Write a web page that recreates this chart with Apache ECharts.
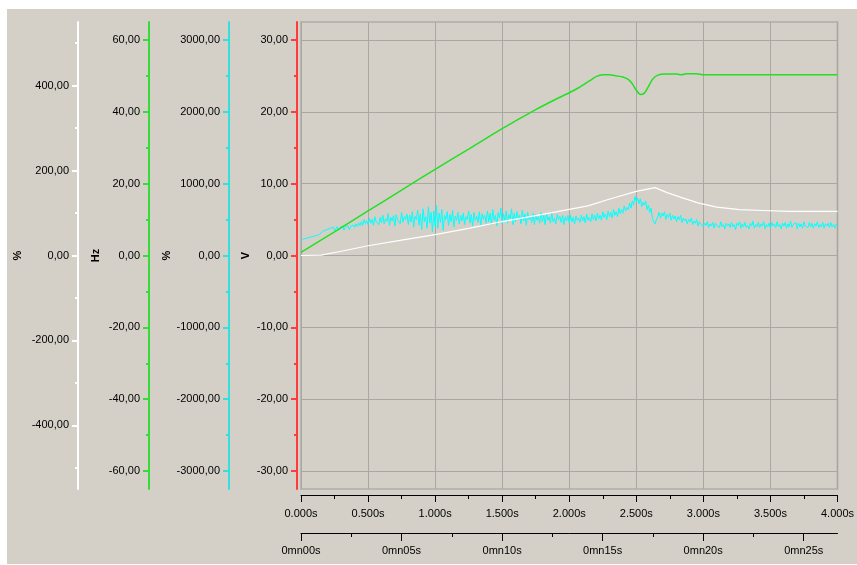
<!DOCTYPE html>
<html>
<head>
<meta charset="utf-8">
<script src="https://cdn.jsdelivr.net/npm/echarts@6.0.0/dist/echarts.min.js"></script>
<style>
  html, body { margin: 0; padding: 0; background: #ffffff; }
  #panel { position: absolute; left: 7px; top: 9px; width: 850px; height: 555px; background: #d4d0c8; }
  #chart { position: absolute; left: 0; top: 0; width: 857px; height: 565px; }
</style>
</head>
<body>
<div id="panel"></div>
<div id="chart"></div>
<script>
// ---------------- data ----------------
// second time axis (s) labels
const clockTicks = [0, 5, 10, 15, 20, 25];
const clockMinor = [2.5, 7.5, 12.5, 17.5, 22.5];

// axis tick values
const vTicks = [-30, -20, -10, 0, 10, 20, 30];
const vMinor = [-25, -15, -5, 5, 15, 25];
const cyanTicks = [-3000, -2000, -1000, 0, 1000, 2000, 3000];
const cyanMinor = [-2500, -1500, -500, 500, 1500, 2500];
const hzTicks = [-60, -40, -20, 0, 20, 40, 60];
const hzMinor = [-50, -30, -10, 10, 30, 50];
const pctTicks = [-400, -200, 0, 200, 400];
const pctMinor = [-500, -300, -100, 100, 300, 500];

// green series: frequency (Hz) vs time (s)
const freqTime = [0, 0.25, 0.5, 0.75, 1.0, 1.25, 1.5, 1.75, 1.9, 2.0, 2.07, 2.15, 2.2, 2.25, 2.3, 2.35, 2.4, 2.44, 2.47, 2.5, 2.53, 2.56, 2.59, 2.62, 2.66, 2.72, 2.8, 2.84, 2.87, 2.95, 3.0, 4.0];
const freqHz   = [0.9, 6.6, 12.4, 18.2, 24.0, 29.6, 35.3, 40.6, 43.5, 45.3, 46.7, 48.6, 49.8, 50.3, 50.3, 50.0, 49.7, 49.0, 47.8, 46.0, 44.8, 45.2, 47.0, 49.0, 50.2, 50.5, 50.5, 50.3, 50.6, 50.6, 50.3, 50.3];

// white series: % vs time (s)
const whiteTime = [0, 0.15, 0.3, 0.5, 0.75, 1.0, 1.25, 1.5, 1.75, 1.92, 2.14, 2.29, 2.5, 2.64, 2.73, 2.85, 2.96, 3.1, 3.27, 3.45, 3.64, 4.0];
const whitePct  = [0, 1, 10, 23, 36, 49, 64, 80, 94, 104, 117, 132, 151, 160, 148, 135, 124, 114, 108, 106, 104, 104];

// cyan series: % sampled every CYAN_DT seconds starting at 0 (one row = 0.2 s)
const CYAN_DT = 0.01;
const cyanPct = [
  200, 215, 230, 222, 240, 235, 252, 246, 262, 255, 270, 290, 280, 305, 295, 320, 335, 325, 350, 340,
  365, 345, 380, 355, 395, 340, 372, 402, 350, 388, 365, 410, 352, 395, 372, 418, 360, 405, 380, 425,
  392, 440, 405, 455, 415, 470, 420, 500, 445, 485, 430, 520, 450, 505, 420, 540, 470, 495, 430, 530,
  455, 560, 440, 510, 475, 585, 420, 530, 480, 555, 410, 570, 495, 520, 440, 600, 465, 540, 500, 575,
  430, 560, 470, 610, 395, 545, 500, 630, 420, 580, 360, 650, 470, 540, 380, 680, 450, 600, 330, 620,
  410, 700, 380, 590, 460, 640, 350, 560, 500, 610, 420, 570, 470, 630, 400, 550, 490, 600, 440, 560,
  480, 590, 430, 540, 500, 620, 450, 570, 410, 600, 490, 545, 460, 610, 420, 580, 505, 560, 450, 620,
  470, 590, 430, 640, 490, 560, 410, 600, 520, 660, 440, 580, 480, 620, 450, 570, 510, 650, 430, 590,
  470, 610, 500, 560, 440, 630, 480, 580, 420, 600, 500, 550, 460, 590, 430, 570, 490, 540, 450, 600,
  470, 560, 430, 580, 490, 540, 450, 590, 470, 520, 440, 570, 500, 545, 460, 560, 430, 540, 480, 555,
  450, 560, 470, 530, 440, 550, 490, 520, 460, 560, 480, 540, 455, 575, 490, 530, 470, 580, 500, 560,
  480, 590, 510, 560, 490, 610, 530, 580, 500, 620, 540, 600, 520, 640, 560, 610, 540, 660, 580, 640,
  590, 690, 620, 670, 640, 730, 660, 760, 700, 820, 750, 800, 720, 790, 680, 740, 700, 760, 640, 700,
  600, 660, 520, 470, 440, 500, 540, 600, 520, 590, 550, 610, 500, 570, 530, 590, 490, 560, 510, 550,
  470, 540, 500, 560, 460, 520, 480, 510, 440, 500, 470, 520, 430, 480, 450, 500, 410, 470, 440, 460,
  400, 450, 420, 470, 390, 440, 410, 460, 380, 450, 420, 440, 390, 470, 400, 430, 370, 450, 410, 440,
  390, 460, 400, 430, 360, 450, 420, 470, 380, 440, 400, 460, 390, 420, 370, 450, 410, 480, 380, 430,
  400, 460, 390, 440, 410, 470, 370, 430, 400, 450, 380, 460, 410, 440, 390, 470, 400, 430, 370, 450,
  410, 460, 380, 440, 400, 480, 390, 430, 410, 460, 370, 450, 400, 440, 380, 470, 410, 430, 390, 460,
  400, 450, 380, 440, 410, 470, 390, 430, 400, 460, 380, 440, 410, 450, 390, 460, 400, 430, 380, 440,
  420
];

// ---------------- chart ----------------
const GRID = '#a9a7a2';
const labelFont = "'Liberation Sans', Arial, sans-serif";
const fmt2 = v => v.toFixed(2).replace('.', ',');

function yAxisPair(opts) {
  const major = {
    type: 'value', position: 'left', gridIndex: 0,
    min: opts.min, max: opts.max, offset: opts.offset,
    name: opts.name, nameLocation: 'middle', nameRotate: 90, nameGap: opts.nameGap, nameMoveOverlap: false,
    nameTextStyle: { fontFamily: labelFont, fontWeight: 'bold', fontSize: 11, color: '#000' },
    axisLine: { show: true, onZero: false, lineStyle: { color: opts.color, width: 2 } },
    axisTick: { show: true, inside: false, length: 6, interval: 0, customValues: opts.ticks, lineStyle: { color: opts.color, width: 2 } },
    axisLabel: { show: true, interval: 0, hideOverlap: false, customValues: opts.ticks, margin: 9, formatter: fmt2, fontFamily: labelFont, fontSize: 11, color: '#000' },
    splitLine: { show: !!opts.split, interval: 0, lineStyle: { color: GRID, width: 1 } },
    minorTick: { show: false }
  };
  const minor = {
    type: 'value', position: 'left', gridIndex: 0,
    min: opts.min, max: opts.max, offset: opts.offset,
    axisLine: { show: false, onZero: false, lineStyle: { color: opts.color } },
    axisTick: { show: true, inside: false, length: 3, interval: 0, customValues: opts.minor, lineStyle: { color: opts.color, width: 2 } },
    axisLabel: { show: false, customValues: opts.minor },
    splitLine: { show: false }
  };
  return [major, minor];
}

const yAxes = [].concat(
  yAxisPair({ min: -32.5, max: 32.5, offset: 4, color: '#ff3b3b', ticks: vTicks, minor: vMinor, name: 'V', nameGap: 46, split: true }),
  yAxisPair({ min: -3250, max: 3250, offset: 72, color: '#33e0e0', ticks: cyanTicks, minor: cyanMinor, name: '%', nameGap: 57 }),
  yAxisPair({ min: -65, max: 65, offset: 152, color: '#33dd33', ticks: hzTicks, minor: hzMinor, name: 'Hz', nameGap: 48 }),
  yAxisPair({ min: -550, max: 550, offset: 223, color: '#ffffff', ticks: pctTicks, minor: pctMinor, name: '%', nameGap: 55 })
);

const CLOCK_MAX = 26.68;

const option = {
  animation: false,
  backgroundColor: 'transparent',
  grid: { left: 301, top: 22, width: 540, height: 467, show: true, borderColor: '#b8b6b0', borderWidth: 2, backgroundColor: 'transparent' },
  xAxis: [
    {
      type: 'value', position: 'bottom', gridIndex: 0, min: 0, max: 4, interval: 0.5, offset: 6,
      axisLine: { show: true, onZero: false, lineStyle: { color: '#000', width: 1 } },
      axisTick: { show: true, length: 7, lineStyle: { color: '#000' } },
      minorTick: { show: true, splitNumber: 2, length: 4, lineStyle: { color: '#000' } },
      axisLabel: { show: true, margin: 13, formatter: v => v.toFixed(3) + 's', fontFamily: labelFont, fontSize: 11, color: '#000', hideOverlap: false, showMinLabel: true, showMaxLabel: true },
      splitLine: { show: true, lineStyle: { color: GRID, width: 1 } }
    },
    {
      type: 'value', position: 'bottom', gridIndex: 0, min: 0, max: CLOCK_MAX, offset: 44,
      axisLine: { show: true, onZero: false, lineStyle: { color: '#000', width: 1 } },
      axisTick: { show: true, length: 8, interval: 0, customValues: clockTicks, lineStyle: { color: '#000' } },
      axisLabel: { show: true, interval: 0, customValues: clockTicks, margin: 12, fontFamily: labelFont, fontSize: 11, color: '#000',
        formatter: v => '0mn' + String(Math.round(v)).padStart(2, '0') + 's' },
      splitLine: { show: false }
    },
    {
      type: 'value', position: 'bottom', gridIndex: 0, min: 0, max: CLOCK_MAX, offset: 44,
      axisLine: { show: false, onZero: false },
      axisTick: { show: true, length: 4, interval: 0, customValues: clockMinor, lineStyle: { color: '#000' } },
      axisLabel: { show: false, customValues: clockMinor },
      splitLine: { show: false }
    }
  ],
  yAxis: yAxes,
  series: [
    {
      type: 'line', xAxisIndex: 0, yAxisIndex: 2, showSymbol: false, symbol: 'none',
      lineStyle: { color: '#00ffff', width: 1 },
      data: cyanPct.map((v, i) => [i * CYAN_DT, v])
    },
    {
      type: 'line', xAxisIndex: 0, yAxisIndex: 6, showSymbol: false, symbol: 'none',
      lineStyle: { color: '#ffffff', width: 1.2 },
      data: whiteTime.map((t, i) => [t, whitePct[i]])
    },
    {
      type: 'line', xAxisIndex: 0, yAxisIndex: 4, showSymbol: false, symbol: 'none', smooth: 0.2,
      lineStyle: { color: '#22e022', width: 1.5 },
      data: freqTime.map((t, i) => [t, freqHz[i]])
    }
  ]
};

const chart = echarts.init(document.getElementById('chart'), null, { renderer: 'canvas' });
chart.setOption(option);
</script>
</body>
</html>
